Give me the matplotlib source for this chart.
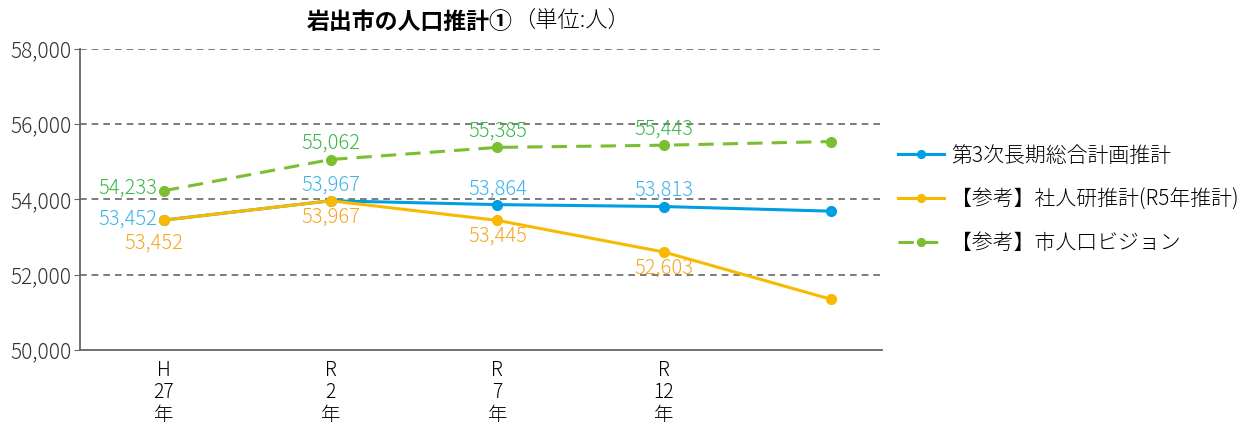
import numpy as np
import matplotlib.pyplot as plt
from matplotlib.ticker import FuncFormatter

plt.rcParams['font.family'] = ['Noto Sans CJK JP', 'DejaVu Sans']

# data
periods = ["H\n27\n年", "R\n2\n年", "R\n7\n年", "R\n12\n年", ""]
plan = [53452, 53967, 53864, 53813, 53690]
ipss = [53452, 53967, 53445, 52603, 51350]
vision = [54233, 55062, 55385, 55443, 55540]
series_names = ["第3次長期総合計画推計", "【参考】社人研推計(R5年推計)", "【参考】市人口ビジョン"]

blue, blue_txt = "#009FE3", "#3DB3EA"
yellow, yellow_txt = "#F7BA00", "#F5A623"
green, green_txt = "#7CBE31", "#3DB54A"

x = np.arange(len(periods))

fig = plt.figure(figsize=(12.57, 4.25), dpi=100)
ax = fig.add_axes([0.0636, 0.1765, 0.638, 0.7082])

ax.plot(x, plan, color=blue, lw=2.2, marker='o', ms=7, label=series_names[0], zorder=4)
ax.plot(x, ipss, color=yellow, lw=2.2, marker='o', ms=7, label=series_names[1], zorder=5)
ax.plot(x, vision, color=green, lw=2.2, ls=(0, (5, 3)), marker='o', ms=7,
        label=series_names[2], zorder=3)

fs_lab = 14.5
fw = 'light'
# green labels
for i in range(4):
    if i == 0:
        ax.annotate(f"{vision[i]:,}", (x[i], vision[i]), xytext=(-5, 2), textcoords='offset points',
                    ha='right', va='center', color=green_txt, fontsize=fs_lab, fontweight=fw)
    else:
        ax.annotate(f"{vision[i]:,}", (x[i], vision[i]), xytext=(0, 4), textcoords='offset points',
                    ha='center', va='bottom', color=green_txt, fontsize=fs_lab, fontweight=fw)
# blue labels
for i in range(4):
    if i == 0:
        ax.annotate(f"{plan[i]:,}", (x[i], plan[i]), xytext=(-5, 1), textcoords='offset points',
                    ha='right', va='center', color=blue_txt, fontsize=fs_lab, fontweight=fw)
    else:
        ax.annotate(f"{plan[i]:,}", (x[i], plan[i]), xytext=(0, 4), textcoords='offset points',
                    ha='center', va='bottom', color=blue_txt, fontsize=fs_lab, fontweight=fw)
# yellow labels
for i in range(4):
    dx, dy = (-7, -9) if i == 0 else (0, -4)
    ax.annotate(f"{ipss[i]:,}", (x[i], ipss[i]), xytext=(dx, dy), textcoords='offset points',
                ha='center', va='top', color=yellow_txt, fontsize=fs_lab, fontweight=fw)

ax.set_ylim(50000, 58000)
ax.set_yticks([50000, 52000, 54000, 56000, 58000])
ax.yaxis.set_major_formatter(FuncFormatter(lambda v, p: f"{int(v):,}"))
ax.set_xlim(-0.504, 4.307)
ax.set_xticks(x)
ax.set_xticklabels(periods, fontsize=14, linespacing=1.1, fontweight=fw)
ax.tick_params(axis='x', length=0, pad=7)
ax.tick_params(axis='y', labelsize=15, length=4, color='#666666', pad=2, labelcolor='#333333')
for t in ax.get_yticklabels():
    t.set_fontweight(fw)

for y in [52000, 54000, 56000, 58000]:
    ax.axhline(y, color='#666666', lw=1.2, ls=(0, (4, 3)), zorder=1)

for s in ['top', 'right']:
    ax.spines[s].set_visible(False)
for s in ['left', 'bottom']:
    ax.spines[s].set_color('#666666')
    ax.spines[s].set_linewidth(1.3)

fig.text(0.408, 0.948, "岩出市の人口推計①", fontsize=16.5, fontweight='bold', ha='right', va='center')
fig.text(0.408, 0.948, "（単位:人）", fontsize=16, ha='left', va='center', fontweight=fw)

leg = ax.legend(loc='center left', bbox_to_anchor=(1.01, 0.50), frameon=False,
                prop={'size': 15, 'weight': fw}, borderaxespad=0,
                handlelength=2.2, labelspacing=1.05, handletextpad=0.35, markerscale=0.8)

fig.savefig("out.png", dpi=100)
